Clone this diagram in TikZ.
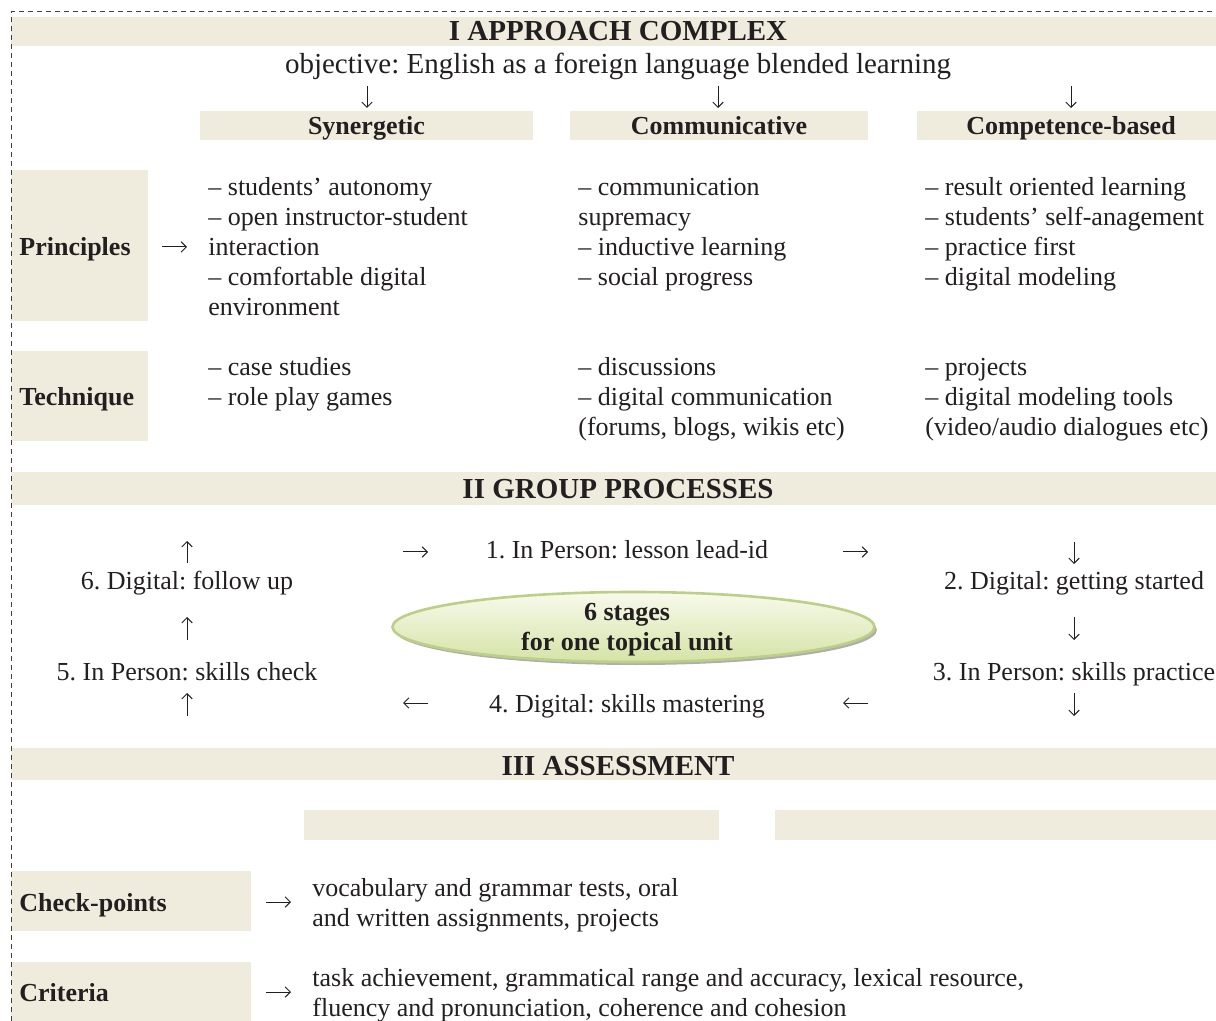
\documentclass[tikz,border=0pt]{standalone}
\usepackage{fontspec}
\setmainfont{Liberation Serif}
\usetikzlibrary{arrows.meta,shapes.geometric,shadows}
\frenchspacing
\definecolor{beige}{HTML}{F0ECDD}
\definecolor{txt}{HTML}{231F20}
\definecolor{ellb}{HTML}{BCCF86}
\definecolor{elltop}{HTML}{F8FAEC}
\definecolor{ellbot}{HTML}{D5E3A6}
\tikzset{
  bar/.style={fill=beige, draw=none},
  body/.style={font=\fontsize{13}{15}\selectfont, text=txt, inner sep=0pt, align=left},
  bodyc/.style={font=\fontsize{13}{15}\selectfont, text=txt, inner sep=0pt},
  lbl/.style={font=\fontsize{13}{15}\selectfont\bfseries, text=txt, inner sep=0pt},
  head/.style={font=\fontsize{14.5}{16}\selectfont\bfseries, text=txt, inner sep=0pt},
  glyph/.style={draw=txt, line width=0.5pt, -{Straight Barb[length=2.6pt,width=5.2pt]}},
  frame/.style={draw=black!75, line width=0.5pt, dash pattern=on 2.5pt off 2pt},
}
\begin{document}
\begin{tikzpicture}[x=0.5pt,y=-0.5pt]
\useasboundingbox (0,0) rectangle (1216,1021);

% ---------- I APPROACH COMPLEX ----------
\fill[bar] (11,17) rectangle (1216,46);
\node[head, anchor=base] (t1) at (618,41) {I APPROACH COMPLEX};
\node[font=\fontsize{14.5}{16}\selectfont, text=txt, inner sep=0pt, anchor=base] (obj) at (618,74)
  {objective: English as a foreign language blended learning};

\coordinate (d1s) at (367,86);  \coordinate (d1e) at (367,108);
\coordinate (d2s) at (718,86);  \coordinate (d2e) at (718,108);
\coordinate (d3s) at (1071,86); \coordinate (d3e) at (1071,108);
\draw[glyph] (d1s) -- (d1e);
\draw[glyph] (d2s) -- (d2e);
\draw[glyph] (d3s) -- (d3e);

\fill[bar] (200,111) rectangle (533,140);
\fill[bar] (570,111) rectangle (868,140);
\fill[bar] (917,111) rectangle (1216,140);
\node[lbl, anchor=base] (h1) at (366.5,135) {Synergetic};
\node[lbl, anchor=base] (h2) at (719,135) {Communicative};
\node[lbl, anchor=base] (h3) at (1071,135) {Competence-based};

% Principles (multi-line nodes: base = baseline of last line)
\fill[bar] (11,170) rectangle (148,321);
\node[lbl, anchor=base west] (pr) at (19,256) {Principles};
\coordinate (pa1) at (162,247); \coordinate (pa2) at (187,247);
\draw[glyph] (pa1) -- (pa2);
\node[body, anchor=base west] (pr1) at (208,316)
  {– students’ autonomy\\– open instructor-student\\interaction\\– comfortable digital\\environment};
\node[body, anchor=base west] (pr2) at (578,286)
  {– communication\\supremacy\\– inductive learning\\– social progress};
\node[body, anchor=base west] (pr3) at (925,286)
  {– result oriented learning\\– students’ self-anagement\\– practice first\\– digital modeling};

% Technique
\fill[bar] (11,351) rectangle (148,441);
\node[lbl, anchor=base west] (te) at (19,406) {Technique};
\node[body, anchor=base west] (te1) at (208,406) {– case studies\\– role play games};
\node[body, anchor=base west] (te2) at (578,436)
  {– discussions\\– digital communication\\(forums, blogs, wikis etc)};
\node[body, anchor=base west] (te3) at (925,436)
  {– projects\\– digital modeling tools\\(video/audio dialogues etc)};

% ---------- II GROUP PROCESSES ----------
\fill[bar] (11,472) rectangle (1216,505);
\node[head, anchor=base] (t2) at (618,499) {II GROUP PROCESSES};

\node[bodyc, anchor=base] (p1) at (627,559) {1. In Person: lesson lead-id};
\node[bodyc, anchor=base] (p2) at (1074,589) {2. Digital: getting started};
\node[bodyc, anchor=base] (p3) at (1074,680) {3. In Person: skills practice};
\node[bodyc, anchor=base] (p4) at (627,712) {4. Digital: skills mastering};
\node[bodyc, anchor=base] (p5) at (187,680) {5. In Person: skills check};
\node[bodyc, anchor=base] (p6) at (187,589) {6. Digital: follow up};

\node[ellipse, minimum width=241pt, minimum height=35pt, draw=ellb, line width=1.3pt,
      top color=elltop, bottom color=ellbot, inner sep=0pt,
      drop shadow={shadow xshift=1.2pt, shadow yshift=-1.5pt, fill=black!45, opacity=0.7}]
      (ell) at (633.5,627) {};
\node[lbl, align=center, anchor=base] (ellt) at (627,650) {6 stages\\for one topical unit};

\coordinate (u1s) at (187,563); \coordinate (u1e) at (187,541);
\coordinate (r1s) at (403,552); \coordinate (r1e) at (428,552);
\coordinate (r2s) at (843,552); \coordinate (r2e) at (868,552);
\coordinate (v1s) at (1074,542); \coordinate (v1e) at (1074,564);
\coordinate (u2s) at (187,640); \coordinate (u2e) at (187,617);
\coordinate (v2s) at (1074,617); \coordinate (v2e) at (1074,640);
\coordinate (u3s) at (187,716); \coordinate (u3e) at (187,693);
\coordinate (l1s) at (428,703); \coordinate (l1e) at (403,703);
\coordinate (l2s) at (868,703); \coordinate (l2e) at (843,703);
\coordinate (v3s) at (1074,693); \coordinate (v3e) at (1074,716);
\draw[glyph] (u1s) -- (u1e);
\draw[glyph] (r1s) -- (r1e);
\draw[glyph] (r2s) -- (r2e);
\draw[glyph] (v1s) -- (v1e);
\draw[glyph] (u2s) -- (u2e);
\draw[glyph] (v2s) -- (v2e);
\draw[glyph] (u3s) -- (u3e);
\draw[glyph] (l1s) -- (l1e);
\draw[glyph] (l2s) -- (l2e);
\draw[glyph] (v3s) -- (v3e);

% ---------- III ASSESSMENT ----------
\fill[bar] (11,748) rectangle (1216,780);
\node[head, anchor=base] (t3) at (618,775) {III ASSESSMENT};
\fill[bar] (304,810) rectangle (719,840);
\fill[bar] (775,810) rectangle (1216,840);

\fill[bar] (11,871) rectangle (251,931);
\node[lbl, anchor=base west] (cp) at (19,911) {Check-points};
\coordinate (ca1) at (266,902); \coordinate (ca2) at (291,902);
\draw[glyph] (ca1) -- (ca2);
\node[body, anchor=base west] (cpt) at (312,926)
  {vocabulary and grammar tests, oral\\and written assignments, projects};

\fill[bar] (11,962) rectangle (251,1021);
\node[lbl, anchor=base west] (cr) at (19,1001) {Criteria};
\coordinate (cb1) at (266,992); \coordinate (cb2) at (291,992);
\draw[glyph] (cb1) -- (cb2);
\node[body, anchor=base west] (crt) at (312,1016)
  {task achievement, grammatical range and accuracy, lexical resource,\\fluency and pronunciation, coherence and cohesion};

% dashed frame
\draw[frame] (11,1021) -- (11,12) -- (1216,12);
\end{tikzpicture}
\end{document}
